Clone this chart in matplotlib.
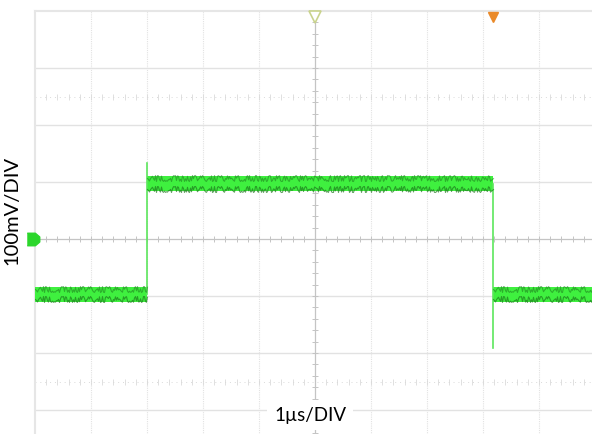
import numpy as np
import matplotlib
matplotlib.use("Agg")
import matplotlib.pyplot as plt

# scope settings (1 division = 1 us horizontally, 100 mV vertically)
x_divs = 10
y_divs = 8
us_per_div = 1.0
mv_per_div = 100.0

# waveform
edge_times_us = [-3.0, 3.18]          # rising edge, falling edge
levels_mv = [-97, 97, -97]           # low, high, low
edge_peaks_mv = [133, -191]          # overshoot / undershoot at each edge
trigger_time_us = 3.18

x_label = "1\u00b5s/DIV"
y_label = "100mV/DIV"

# styles
bright = "#3ff03f"
dark = "#1d7a1d"
grid_col = "#e2e2e2"
axis_col = "#c4c4c4"
band_mv = 13  # half width of the noisy trace band


def set_up_canvas():
    fig = plt.figure(figsize=(5.92, 4.35), dpi=100)
    # screen area runs past the bottom and right edge of the picture
    ax = fig.add_axes([35 / 592, -33 / 435, 560 / 592, 456 / 435])
    xmax = x_divs / 2 * us_per_div
    ymax = y_divs / 2 * mv_per_div
    ax.set_xlim(-xmax, xmax)
    ax.set_ylim(-ymax, ymax)
    ax.set_xticks([])
    ax.set_yticks([])
    for s in ax.spines.values():
        s.set_color("#e6e6e6")
        s.set_linewidth(1.5)
    return fig, ax


def draw_graticule(ax):
    xmax = x_divs / 2 * us_per_div
    ymax = y_divs / 2 * mv_per_div
    for gx in np.arange(-xmax + 1, xmax, us_per_div):
        if gx != 0:
            ax.axvline(gx, color=grid_col, lw=0.8, ls=(0, (1, 1)), zorder=1)
    for gy in np.arange(-ymax + mv_per_div, ymax, mv_per_div):
        if gy != 0:
            ax.axhline(gy, color=grid_col, lw=1.0, zorder=1)

    # centre axes with minor ticks
    ax.axhline(0, color=axis_col, lw=0.9, zorder=2)
    ax.axvline(0, color=axis_col, lw=0.9, zorder=2)
    tx = np.arange(-xmax, xmax + 0.01, us_per_div / 5)
    ty = np.arange(-ymax, ymax + 0.01, mv_per_div / 5)
    ax.plot(tx, np.zeros_like(tx), ls="none", marker="|", ms=5, mew=0.7,
            color=axis_col, zorder=2)
    ax.plot(np.zeros_like(ty), ty, ls="none", marker="_", ms=5, mew=0.7,
            color=axis_col, zorder=2)

    # dotted rows at +-2.5 div
    for ry in (2.5 * mv_per_div, -2.5 * mv_per_div):
        ax.plot(tx, np.full_like(tx, ry), ls=(0, (1, 4)), lw=0.7,
                marker="|", ms=4, mew=0.6, color="#dadada", zorder=1)


def draw_trace(ax):
    xmax = x_divs / 2 * us_per_div
    starts = [-xmax] + edge_times_us
    ends = edge_times_us + [xmax]
    for t0, t1, lv in zip(starts, ends, levels_mv):
        ax.fill_between([t0, t1], lv - band_mv, lv + band_mv, color=bright,
                        lw=0, zorder=4)
        for off, a in ((band_mv * 0.75, 0.55), (-band_mv * 0.7, 0.7)):
            ln, = ax.plot([t0, t1], [lv + off, lv + off], color=dark, lw=0.8,
                          alpha=a, zorder=5)
            ln.set_sketch_params(scale=3, length=1.5, randomness=12)
    # edges with over/undershoot
    for i, (te, pk) in enumerate(zip(edge_times_us, edge_peaks_mv)):
        ax.plot([te, te], [levels_mv[i], pk], color="#5ce65c", lw=1.2,
                zorder=4)


def draw_markers(ax):
    ymax = y_divs / 2 * mv_per_div
    # ground marker on the left
    gnd = [(-1, -1), (0.3, -1), (1, -0.4), (1, 0.4), (0.3, 1), (-1, 1)]
    ax.plot([-5.03 * us_per_div], [0], marker=gnd, ms=9, color="#2bd62b",
            clip_on=False, zorder=6)
    # trigger position markers on top
    ax.plot([0], [ymax - 10], marker="v", ms=8, mfc="white", mec="#c9d38c",
            mew=1.2, clip_on=False, zorder=6)
    ax.plot([trigger_time_us], [ymax - 10], marker="v", ms=7, color="#ea8a2a",
            clip_on=False, zorder=6)


def visualize():
    fig, ax = set_up_canvas()
    draw_graticule(ax)
    draw_trace(ax)
    draw_markers(ax)

    fig.text(12 / 592, 1 - 210 / 435, y_label, rotation=90, ha="center",
             va="center", fontsize=14.5, family="Lato")
    fig.text(310 / 592, 1 - 416 / 435, x_label, ha="center", va="center",
             fontsize=13.5, family="Lato",
             bbox=dict(facecolor="white", edgecolor="none", pad=5))

    fig.savefig("out.png", dpi=100)


if __name__ == "__main__":
    visualize()
